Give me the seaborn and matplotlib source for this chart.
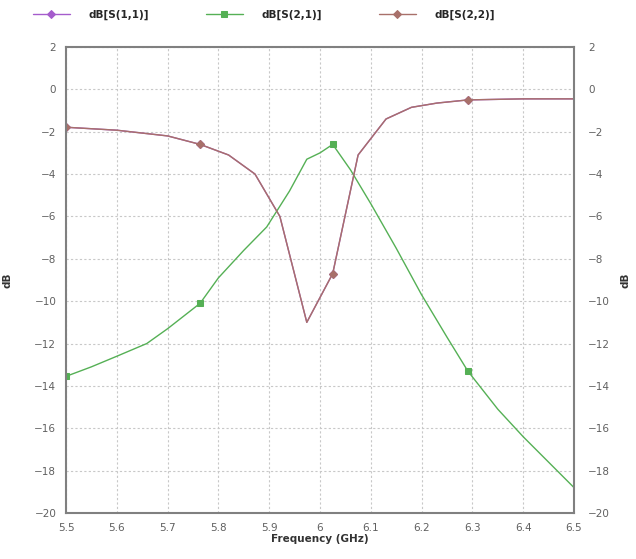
import numpy as np
import pandas as pd
import matplotlib
matplotlib.use("Agg")
import matplotlib.pyplot as plt
import seaborn as sns

# S-parameter traces (frequency in GHz, magnitude in dB)
freq_s22 = [5.5, 5.6, 5.7, 5.764, 5.82, 5.872, 5.921, 5.974, 6.025, 6.075,
            6.13, 6.18, 6.23, 6.291, 6.4, 6.5]
db_s22 = [-1.79, -1.93, -2.2, -2.6, -3.1, -4.0, -6.0, -11.0, -8.7, -3.1,
          -1.4, -0.85, -0.65, -0.5, -0.45, -0.45]
s22_markers = [0, 3, 8, 13]

# S11 sits beneath S22 (symmetric structure)
freq_s11 = freq_s22
db_s11 = db_s22
s11_markers = s22_markers

freq_s21 = [5.5, 5.55, 5.6, 5.659, 5.7, 5.764, 5.8, 5.85, 5.895, 5.94, 5.974,
            6.0, 6.025, 6.06, 6.1, 6.15, 6.2, 6.25, 6.291, 6.35, 6.4, 6.45, 6.5]
db_s21 = [-13.55, -13.1, -12.6, -12.0, -11.3, -10.1, -8.9, -7.6, -6.5, -4.8,
          -3.3, -3.0, -2.6, -3.8, -5.4, -7.5, -9.7, -11.7, -13.3, -15.1,
          -16.4, -17.6, -18.8]
s21_markers = [0, 5, 12, 18]

x_ticks = [5.5, 5.6, 5.7, 5.8, 5.9, 6.0, 6.1, 6.2, 6.3, 6.4, 6.5]
x_tick_labels = ["5.5", "5.6", "5.7", "5.8", "5.9", "6", "6.1", "6.2", "6.3", "6.4", "6.5"]
y_ticks = list(range(2, -21, -2))

sns.set_style("white")
plt.rcParams["font.family"] = ["DejaVu Sans"]

fig = plt.figure(figsize=(6.36, 5.59), dpi=100)
ax = fig.add_axes([0.1038, 0.0823, 0.7987, 0.8337])

traces = [
    ("dB[S(1,1)]", freq_s11, db_s11, s11_markers, "#a55ccc", "D"),
    ("dB[S(2,1)]", freq_s21, db_s21, s21_markers, "#55b055", "s"),
    ("dB[S(2,2)]", freq_s22, db_s22, s22_markers, "#a8706a", "D"),
]
for label, f, d, mk, color, marker in traces:
    df = pd.DataFrame({"f": f, "db": d})
    sns.lineplot(data=df, x="f", y="db", ax=ax, color=color, linewidth=1.0,
                 marker=marker, markersize=4, markevery=mk, label=label,
                 markeredgecolor=color, sort=False)

ax.set_xlim(5.5, 6.5)
ax.set_ylim(-20, 2)
ax.set_xticks(x_ticks)
ax.set_xticklabels(x_tick_labels)
ax.set_yticks(y_ticks)
ax.grid(True, color="#c8c8c8", linestyle=(0, (2, 2)), linewidth=0.8)
for sp in ax.spines.values():
    sp.set_color("#808080")
    sp.set_linewidth(1.5)
ax.tick_params(axis="both", colors="#606060", labelsize=7.5, length=0, pad=7)

ax.set_xlabel("Frequency (GHz)", fontsize=7.5, fontweight="bold", color="#333333", labelpad=1)
ax.set_ylabel("dB", fontsize=7.5, fontweight="bold", color="#333333", labelpad=16)

ax2 = ax.twinx()
ax2.set_ylim(-20, 2)
ax2.set_yticks(y_ticks)
ax2.tick_params(axis="y", colors="#606060", labelsize=7.5, length=0, pad=10)
ax2.set_ylabel("dB", fontsize=7.5, fontweight="bold", color="#333333", labelpad=8)
for sp in ax2.spines.values():
    sp.set_visible(False)

handles, labels = ax.get_legend_handles_labels()
ax.legend_.remove()
fig.legend(handles, labels, loc="upper center", bbox_to_anchor=(0.415, 1.0),
           ncol=3, frameon=False, columnspacing=5.5, handlelength=3.5,
           handletextpad=1.8, prop={"weight": "bold", "size": 7.5})

fig.savefig("out.png", dpi=100)
